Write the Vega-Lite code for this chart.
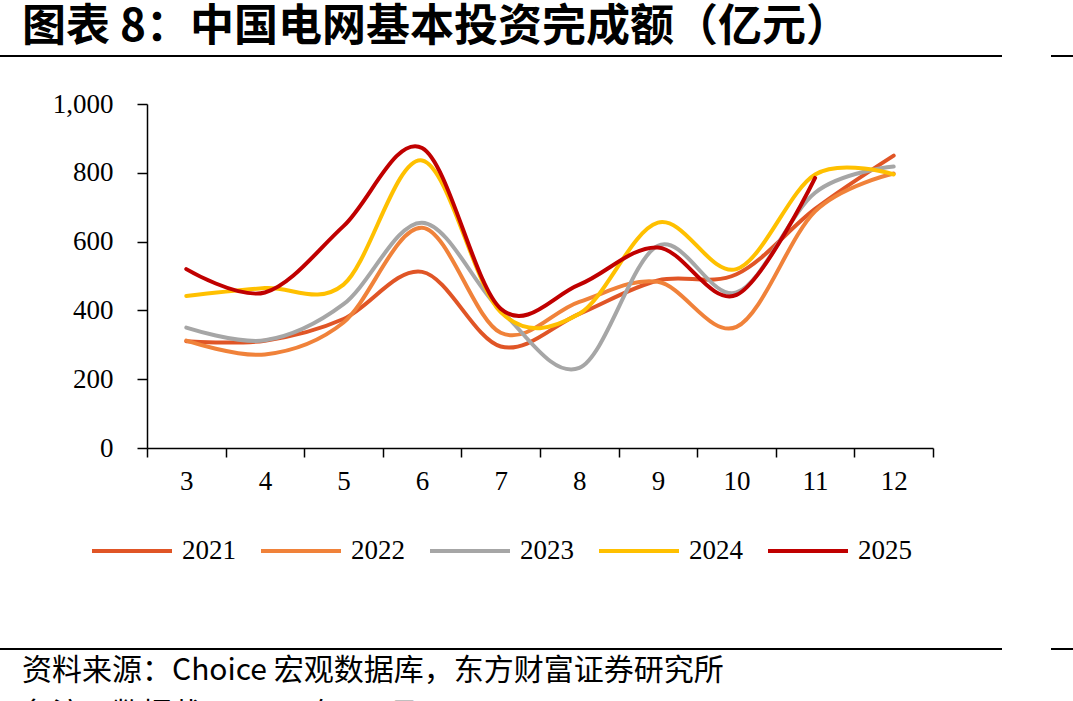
{
  "$schema": "https://vega.github.io/schema/vega-lite/v6.json",
  "background": "white",
  "padding": {"left": 0, "top": 6, "right": 0, "bottom": 0},
  "spacing": 33,
  "config": {"view": {"stroke": null}},
  "vconcat": [
    {
      "spacing": 49,
      "hconcat": [
        {
          "width": 1002,
          "height": 2,
          "view": {"fill": "black", "stroke": null},
          "title": {
            "text": "图表 8：中国电网基本投资完成额（亿元）",
            "anchor": "start",
            "dx": 22,
            "offset": 5,
            "font": "Noto Sans CJK SC",
            "fontSize": 44,
            "fontWeight": "bold",
            "color": "black"
          },
          "data": {"values": []},
          "mark": "rule",
          "encoding": {}
        },
        {
          "width": 22,
          "height": 2,
          "view": {"fill": "black", "stroke": null},
          "data": {"values": []},
          "mark": "rule",
          "encoding": {}
        }
      ]
    },
    {
      "spacing": 0,
      "resolve": {"legend": {"color": "independent"}},
      "hconcat": [
        {
          "width": 1,
          "height": 344,
          "data": {"values": []},
          "mark": "rule",
          "encoding": {}
        },
        {
          "width": 786,
          "height": 344,
          "data": {
            "values": [
              {"month": 3, "year": "2021", "value": 310},
              {"month": 4, "year": "2021", "value": 312},
              {"month": 5, "year": "2021", "value": 375},
              {"month": 6, "year": "2021", "value": 512},
              {"month": 7, "year": "2021", "value": 295},
              {"month": 8, "year": "2021", "value": 390},
              {"month": 9, "year": "2021", "value": 487},
              {"month": 10, "year": "2021", "value": 505},
              {"month": 11, "year": "2021", "value": 695},
              {"month": 12, "year": "2021", "value": 850},
              {"month": 3, "year": "2022", "value": 312},
              {"month": 4, "year": "2022", "value": 272},
              {"month": 5, "year": "2022", "value": 365},
              {"month": 6, "year": "2022", "value": 640},
              {"month": 7, "year": "2022", "value": 335},
              {"month": 8, "year": "2022", "value": 425},
              {"month": 9, "year": "2022", "value": 483},
              {"month": 10, "year": "2022", "value": 352},
              {"month": 11, "year": "2022", "value": 688},
              {"month": 12, "year": "2022", "value": 798},
              {"month": 3, "year": "2023", "value": 350},
              {"month": 4, "year": "2023", "value": 313},
              {"month": 5, "year": "2023", "value": 418},
              {"month": 6, "year": "2023", "value": 655},
              {"month": 7, "year": "2023", "value": 400},
              {"month": 8, "year": "2023", "value": 233},
              {"month": 9, "year": "2023", "value": 588},
              {"month": 10, "year": "2023", "value": 452},
              {"month": 11, "year": "2023", "value": 742},
              {"month": 12, "year": "2023", "value": 818},
              {"month": 3, "year": "2024", "value": 442},
              {"month": 4, "year": "2024", "value": 465},
              {"month": 5, "year": "2024", "value": 475},
              {"month": 6, "year": "2024", "value": 836},
              {"month": 7, "year": "2024", "value": 395},
              {"month": 8, "year": "2024", "value": 390},
              {"month": 9, "year": "2024", "value": 655},
              {"month": 10, "year": "2024", "value": 520},
              {"month": 11, "year": "2024", "value": 795},
              {"month": 12, "year": "2024", "value": 795},
              {"month": 3, "year": "2025", "value": 520},
              {"month": 4, "year": "2025", "value": 452},
              {"month": 5, "year": "2025", "value": 645},
              {"month": 6, "year": "2025", "value": 872},
              {"month": 7, "year": "2025", "value": 405},
              {"month": 8, "year": "2025", "value": 475},
              {"month": 9, "year": "2025", "value": 583},
              {"month": 10, "year": "2025", "value": 445},
              {"month": 11, "year": "2025", "value": 785}
            ]
          },
          "mark": {"type": "line", "interpolate": "cardinal", "strokeWidth": 4, "strokeCap": "round", "strokeJoin": "round"},
          "encoding": {
            "x": {
              "field": "month",
              "type": "ordinal",
              "bandPosition": 0.5,
              "scale": {"type": "band", "domain": [3, 4, 5, 6, 7, 8, 9, 10, 11, 12], "paddingInner": 0, "paddingOuter": 0},
              "axis": {
                "title": null,
                "tickBand": "extent",
                "tickSize": 9,
                "tickWidth": 1.5,
                "tickColor": "black",
                "domainColor": "black",
                "domainWidth": 1.5,
                "labelAngle": 0,
                "labelFont": "Liberation Serif",
                "labelFontSize": 27,
                "labelColor": "black",
                "labelPadding": 11,
                "grid": false,
                "minExtent": 167
              }
            },
            "y": {
              "field": "value",
              "type": "quantitative",
              "scale": {"domain": [0, 1000]},
              "axis": {
                "title": null,
                "values": [0, 200, 400, 600, 800, 1000],
                "format": ",.0f",
                "tickSize": 10,
                "tickWidth": 1.5,
                "tickColor": "black",
                "domainColor": "black",
                "domainWidth": 1.5,
                "labelFont": "Liberation Serif",
                "labelFontSize": 27,
                "labelColor": "black",
                "labelPadding": 24,
                "grid": false,
                "minExtent": 146
              }
            },
            "color": {
              "field": "year",
              "type": "nominal",
              "scale": {
                "domain": ["2021", "2022", "2023", "2024", "2025"],
                "range": ["#E05526", "#F0823A", "#A6A6A6", "#FFC000", "#C00000"]
              },
              "legend": {
                "orient": "none",
                "direction": "horizontal",
                "legendX": -57,
                "legendY": 405,
                "title": null,
                "symbolType": "stroke",
                "symbolSize": 6400,
                "symbolStrokeWidth": 4,
                "labelFont": "Liberation Serif",
                "labelFontSize": 27,
                "labelColor": "black",
                "labelOffset": 8,
                "columnPadding": 17,
                "padding": 0
              }
            }
          }
        }
      ]
    },
    {
      "spacing": 49,
      "hconcat": [
        {
          "width": 1002,
          "height": 2,
          "view": {"fill": "black", "stroke": null},
          "title": {
            "text": ["资料来源：Choice 宏观数据库，东方财富证券研究所", "备注：数据截至 2025 年 11 月"],
            "orient": "bottom",
            "anchor": "start",
            "dx": 22,
            "offset": 6,
            "font": "Noto Sans CJK SC",
            "fontSize": 30,
            "fontWeight": "normal",
            "lineHeight": 44,
            "color": "black"
          },
          "data": {"values": []},
          "mark": "rule",
          "encoding": {}
        },
        {
          "width": 22,
          "height": 2,
          "view": {"fill": "black", "stroke": null},
          "data": {"values": []},
          "mark": "rule",
          "encoding": {}
        }
      ]
    }
  ]
}
